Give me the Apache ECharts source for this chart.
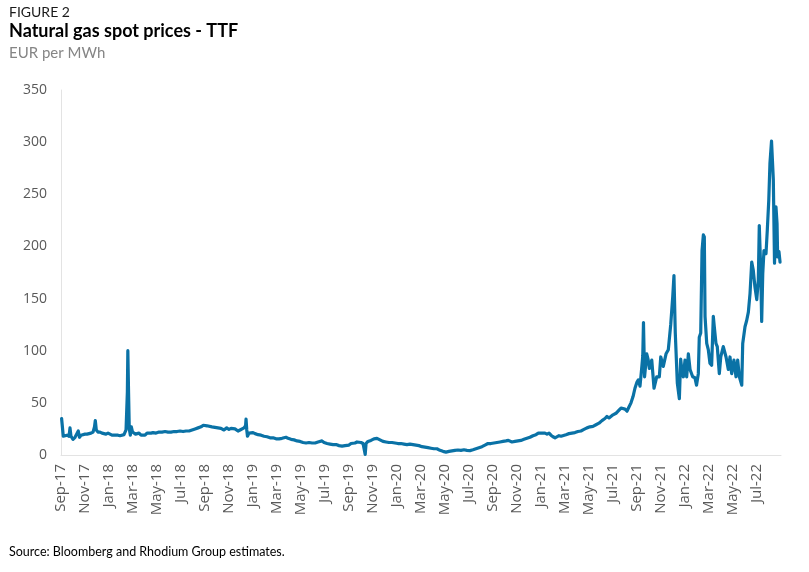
<!DOCTYPE html>
<html><head><meta charset="utf-8">
<script src="https://cdn.jsdelivr.net/npm/echarts@6/dist/echarts.min.js"></script>
<style>html,body{margin:0;padding:0;background:#fff}#c{width:809px;height:572px}</style>
</head><body><div id="c"></div>
<script>
// x-axis tick labels (every two months from Sep-2017)
const tickLabels = ['Sep-17','Nov-17','Jan-18','Mar-18','May-18','Jul-18','Sep-18','Nov-18','Jan-19','Mar-19',
  'May-19','Jul-19','Sep-19','Nov-19','Jan-20','Mar-20','May-20','Jul-20','Sep-20','Nov-20',
  'Jan-21','Mar-21','May-21','Jul-21','Sep-21','Nov-21','Jan-22','Mar-22','May-22','Jul-22'];
const yTicks = [0, 50, 100, 150, 200, 250, 300, 350];

// time position of each observation, in months after 1 Sep 2017
const monthOffset = [
  0.05, 0.19, 0.33, 0.5, 0.67, 0.75, 0.83, 1.0, 1.17, 1.33,
  1.44, 1.54, 1.67, 1.83, 2.0, 2.17, 2.33, 2.5, 2.67, 2.79,
  2.86, 2.94, 3.08, 3.25, 3.42, 3.58, 3.75, 3.92, 4.08, 4.25,
  4.42, 4.58, 4.75, 4.92, 5.08, 5.25, 5.42, 5.53, 5.57, 5.63,
  5.69, 5.78, 5.86, 5.96, 6.08, 6.21, 6.33, 6.5, 6.67, 6.83,
  7.0, 7.17, 7.33, 7.5, 7.67, 7.92, 8.17, 8.42, 8.67, 8.92,
  9.17, 9.42, 9.67, 9.92, 10.17, 10.42, 10.67, 10.92, 11.17, 11.42,
  11.67, 11.86, 12.0, 12.17, 12.33, 12.58, 12.83, 13.08, 13.33, 13.58,
  13.81, 14.0, 14.17, 14.33, 14.5, 14.75, 14.92, 15.08, 15.25, 15.38,
  15.42, 15.48, 15.54, 15.67, 15.83, 16.0, 16.17, 16.42, 16.67, 16.92,
  17.17, 17.42, 17.67, 17.92, 18.17, 18.42, 18.58, 18.75, 18.92, 19.17,
  19.42, 19.67, 19.92, 20.17, 20.42, 20.67, 20.92, 21.17, 21.42, 21.58,
  21.75, 21.92, 22.17, 22.42, 22.67, 22.92, 23.17, 23.42, 23.67, 23.83,
  24.0, 24.17, 24.33, 24.5, 24.67, 24.83, 25.0, 25.17, 25.29, 25.35,
  25.42, 25.58, 25.83, 26.08, 26.33, 26.58, 26.83, 27.08, 27.33, 27.58,
  27.83, 28.08, 28.33, 28.58, 28.83, 29.08, 29.33, 29.58, 29.83, 30.08,
  30.33, 30.58, 30.83, 31.08, 31.33, 31.58, 31.83, 32.08, 32.33, 32.58,
  32.83, 33.08, 33.33, 33.58, 33.83, 34.08, 34.33, 34.58, 34.83, 35.08,
  35.33, 35.58, 35.83, 36.08, 36.33, 36.58, 36.83, 37.08, 37.28, 37.42,
  37.58, 37.83, 38.08, 38.33, 38.58, 38.83, 39.08, 39.33, 39.58, 39.78,
  39.92, 40.08, 40.21, 40.33, 40.5, 40.67, 40.83, 41.0, 41.17, 41.33,
  41.5, 41.67, 41.83, 42.08, 42.33, 42.58, 42.83, 43.08, 43.33, 43.58,
  43.83, 44.08, 44.33, 44.58, 44.83, 45.08, 45.33, 45.5, 45.67, 45.83,
  46.0, 46.25, 46.5, 46.67, 46.83, 47.0, 47.17, 47.33, 47.5, 47.67,
  47.83, 48.0, 48.11, 48.25, 48.39, 48.48, 48.54, 48.63, 48.81, 48.92,
  49.03, 49.23, 49.42, 49.64, 49.86, 49.98, 50.19, 50.42, 50.61, 50.81,
  50.98, 51.08, 51.19, 51.36, 51.53, 51.64, 51.75, 51.86, 52.0, 52.14,
  52.28, 52.42, 52.64, 52.83, 52.96, 53.11, 53.19, 53.31, 53.42, 53.53,
  53.61, 53.67, 53.81, 53.94, 54.08, 54.22, 54.36, 54.44, 54.58, 54.69,
  54.86, 54.98, 55.19, 55.42, 55.61, 55.75, 55.89, 56.08, 56.25, 56.39,
  56.53, 56.73, 56.81, 57.0, 57.14, 57.28, 57.42, 57.56, 57.69, 57.83,
  57.98, 58.11, 58.19, 58.31, 58.39, 58.48, 58.58, 58.75, 58.86, 58.98,
  59.08, 59.21, 59.36, 59.46, 59.58, 59.67, 59.72, 59.83, 59.92
];
// TTF spot price, EUR per MWh
const ttfPrice = [
  35, 18, 17, 19, 18, 26, 18, 15, 17, 17,
  23, 17, 19, 19, 20, 20, 21, 21, 22, 27,
  33, 24, 22, 22, 21, 21, 20, 21, 20, 19,
  19, 18.5, 19, 18.5, 19, 19.5, 24, 60, 100, 60,
  25, 19, 27, 22, 23, 20, 20.5, 21, 19, 20.5,
  19, 21, 20.5, 21, 21.5, 21, 22, 22, 22.5, 22,
  22, 22.5, 22.5, 23, 22.5, 23, 23, 24, 25, 26,
  27, 28.5, 29, 28, 28.5, 27, 26.5, 26, 25.5, 24,
  26, 24.5, 25.5, 24, 25, 23, 24, 25, 26, 28,
  34.5, 24, 18, 21, 22, 21.5, 20.5, 19.5, 19, 18,
  17.5, 16.5, 16.5, 15.5, 15.5, 16, 16.5, 17, 16, 15,
  14.5, 13.5, 13, 12, 11.5, 12, 11.5, 11.5, 12.5, 14,
  13.5, 12, 11, 10.5, 10, 10, 9, 8.5, 9, 10.5,
  9.5, 11, 12, 11.5, 12.5, 11.5, 12, 11, 11, 0.5,
  11, 13, 14, 15.5, 16, 14.5, 13, 12.5, 12, 12,
  11.5, 11, 11, 10.5, 10, 10.5, 10, 9.5, 9, 8,
  7.5, 7, 6.5, 6, 6, 4.5, 3.5, 2.8, 3.5, 4,
  4.5, 4.8, 4.5, 5, 4.5, 4.2, 5, 6, 7, 8,
  9.5, 11, 11, 11.5, 12, 12.5, 13, 13.5, 14, 13,
  12.5, 13, 13.5, 14, 15, 16, 17, 18.5, 19.5, 21,
  19.5, 21, 22, 21, 20, 21, 19, 17.5, 16.5, 17,
  18.5, 18, 19, 19.5, 20.5, 21, 21.5, 22.5, 23, 24.5,
  26, 27, 27.5, 29, 30.5, 33, 35, 37, 35.5, 37,
  38.5, 40, 43, 45, 46, 44, 42, 46, 50, 56,
  64, 70, 72, 66, 83, 95, 127, 75, 97, 92,
  83, 91, 64, 75, 75, 94, 85, 97, 101, 125,
  152, 172, 117, 69, 54, 92, 80, 75, 91, 75,
  97, 82, 75, 74, 67, 78, 113, 117, 196, 211,
  209, 133, 107, 101, 88, 86, 133, 123, 107, 104,
  78, 94, 104, 94, 82, 94, 78, 91, 75, 91,
  75, 67, 107, 123, 129, 137, 155, 185, 177, 161,
  149, 168, 220, 177, 128, 174, 196, 193, 216, 244,
  280, 301, 264, 184, 238, 222, 190, 195, 185
];

const FONT = 'Lato, "Noto Sans", sans-serif';
const AXFONT = '"Open Sans", "Noto Sans", sans-serif';
const chart = echarts.init(document.getElementById('c'), null, {renderer: 'canvas'});
chart.setOption({
  animation: false,
  backgroundColor: '#ffffff',
  textStyle: {fontFamily: FONT},
  graphic: [
    {type: 'text', left: 9, top: 5, style: {text: 'FIGURE 2', fontFamily: FONT, fontSize: 14, fill: '#1a1a1a'}},
    {type: 'text', left: 9, top: 22, style: {text: 'Natural gas spot prices - TTF', fontFamily: FONT, fontSize: 18, fontWeight: 'bold', fill: '#000000'}},
    {type: 'text', left: 9, top: 46, style: {text: 'EUR per MWh', fontFamily: FONT, fontSize: 15, fill: '#858585'}},
    {type: 'text', left: 9, top: 545, style: {text: 'Source: Bloomberg and Rhodium Group estimates.', fontFamily: FONT, fontSize: 12.5, fill: '#000000'}}
  ],
  grid: {left: 61, right: 28, top: 90, bottom: 117, containLabel: false},
  xAxis: {
    type: 'value', min: 0, max: 60, interval: 2,
    axisLine: {show: true, lineStyle: {color: '#e3e3e3', width: 1}},
    axisTick: {show: false},
    splitLine: {show: false},
    axisLabel: {
      rotate: 90, margin: 9, color: '#595959', fontSize: 15, fontFamily: AXFONT,
      formatter: function (v) { const i = Math.round(v / 2); return tickLabels[i] !== undefined ? tickLabels[i] : ''; }
    }
  },
  yAxis: {
    type: 'value', min: yTicks[0], max: yTicks[yTicks.length - 1], interval: 50,
    axisLine: {show: true, lineStyle: {color: '#e3e3e3', width: 1}},
    axisTick: {show: false},
    splitLine: {show: false},
    axisLabel: {margin: 14, color: '#595959', fontSize: 14, fontFamily: AXFONT}
  },
  series: [{
    type: 'line',
    data: monthOffset.map((m, i) => [m, ttfPrice[i]]),
    showSymbol: false,
    lineStyle: {color: '#0a72a6', width: 3.2, join: 'round', cap: 'round'},
    itemStyle: {color: '#0a72a6'}
  }]
});
</script>
</body></html>
